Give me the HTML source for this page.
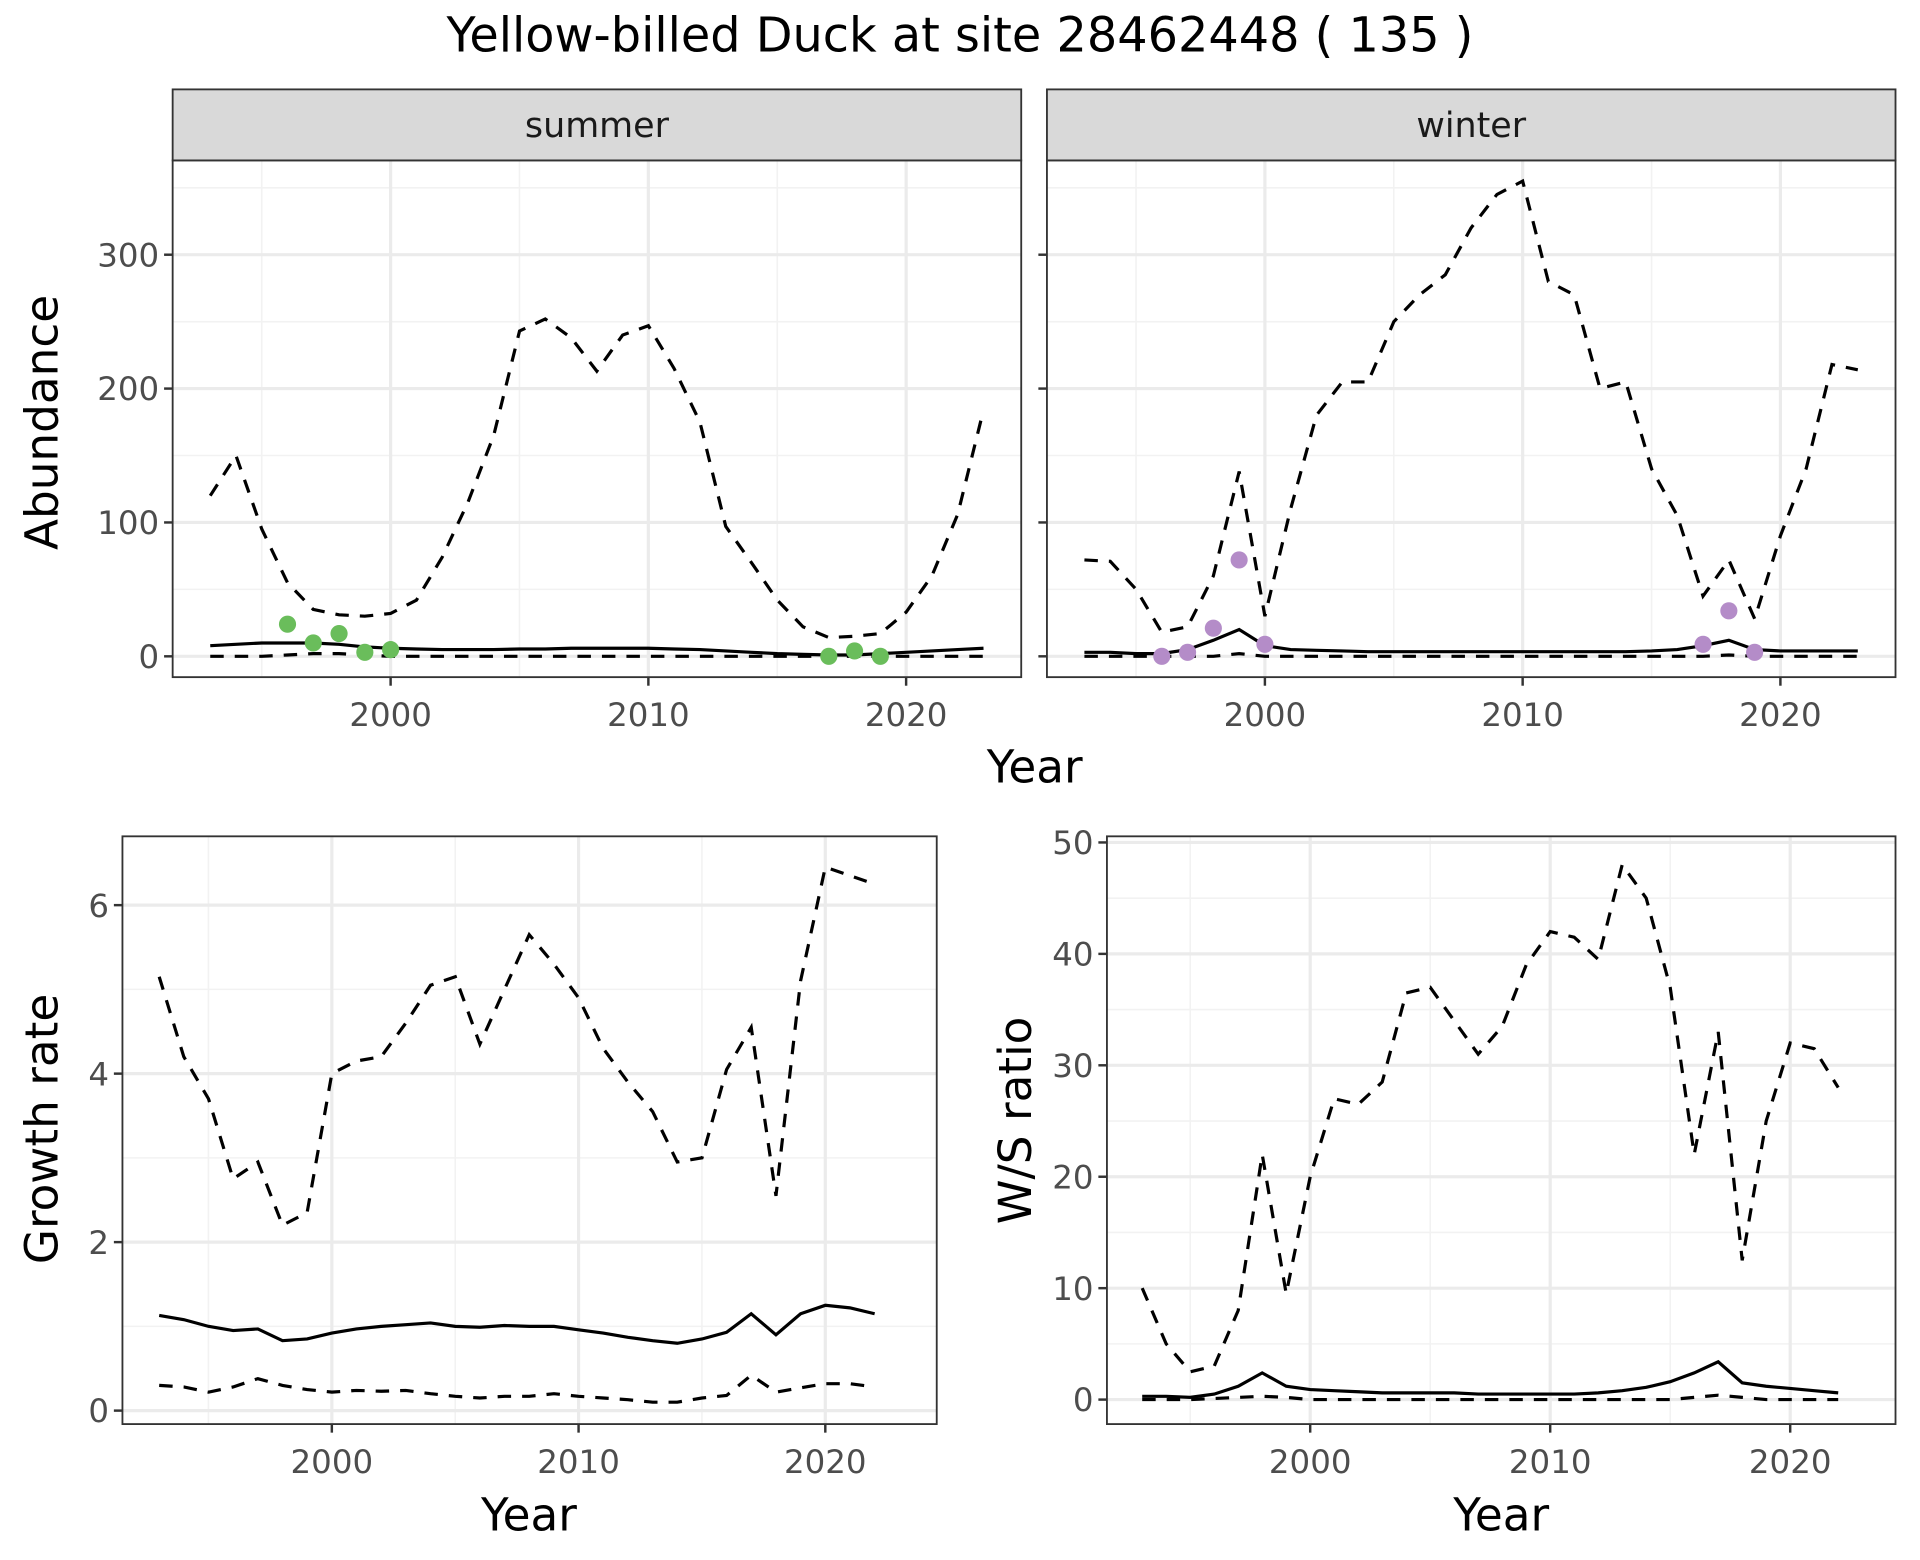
<!DOCTYPE html>
<html><head><meta charset="utf-8"><style>
html,body{margin:0;padding:0;background:#fff;}
svg{display:block;font-family:"DejaVu Sans","Liberation Sans",sans-serif;}
</style></head><body>
<svg id="chart" width="1920" height="1560" viewBox="0 0 1568 1274" xmlns="http://www.w3.org/2000/svg">
<rect width="1568" height="1274" fill="#fff"/>
<text x="784" y="42" font-size="39" text-anchor="middle" fill="#000">Yellow-billed Duck at site 28462448 ( 135 )</text>
</svg>
<script>
const yearsTop = [1993,1994,1995,1996,1997,1998,1999,2000,2001,2002,2003,2004,2005,2006,2007,2008,2009,2010,2011,2012,2013,2014,2015,2016,2017,2018,2019,2020,2021,2022,2023];
const summerUpper = [120,150,95,55,35,31,30,32,42,74,115,165,243,252,238,213,240,247,215,175,97,70,42,22,14,15,17,33,60,106,184];
const summerMean = [8,9,10,10,10,9,7,6,5.5,5,5,5,5.5,5.5,6,6,6,6,5.5,5,4,3,2,1.5,1,1,2,3,4,5,6];
const summerLower = [0,0,0,1,2,2,1,0,0,0,0,0,0,0,0,0,0,0,0,0,0,0,0,0,0,0,0,0,0,0,0];
const summerPtYears = [1996,1997,1998,1999,2000,2017,2018,2019];
const summerPtVals = [24,10,17,3,5,0,4,0];
const winterUpper = [72,71,50,18,22,60,138,30,110,180,205,205,250,270,285,320,345,355,280,270,200,205,140,105,45,72,28,90,140,218,214];
const winterMean = [3,3,2,2,5,12,20,8,5,4.5,4,3.5,3.5,3.5,3.5,3.5,3.5,3.5,3.5,3.5,3.5,3.5,4,5,8,12,5,4,4,4,4];
const winterLower = [0,0,0,0,0,0,2,0,0,0,0,0,0,0,0,0,0,0,0,0,0,0,0,0,0,1,0,0,0,0,0];
const winterPtYears = [1996,1997,1998,1999,2000,2017,2018,2019];
const winterPtVals = [0,3,21,72,9,9,34,3];
const yearsBot = [1993,1994,1995,1996,1997,1998,1999,2000,2001,2002,2003,2004,2005,2006,2007,2008,2009,2010,2011,2012,2013,2014,2015,2016,2017,2018,2019,2020,2021,2022];
const growthUpper = [5.15,4.2,3.7,2.75,2.95,2.2,2.35,4.0,4.15,4.2,4.6,5.05,5.15,4.35,5.0,5.65,5.3,4.9,4.3,3.9,3.55,2.95,3.0,4.05,4.55,2.55,5.1,6.45,6.35,6.25];
const growthMean = [1.13,1.08,1.0,0.95,0.97,0.83,0.85,0.92,0.97,1.0,1.02,1.04,1.0,0.99,1.01,1.0,1.0,0.96,0.92,0.87,0.83,0.8,0.85,0.93,1.15,0.9,1.15,1.25,1.22,1.15];
const growthLower = [0.3,0.28,0.22,0.28,0.38,0.3,0.25,0.22,0.24,0.23,0.24,0.2,0.17,0.15,0.17,0.17,0.2,0.17,0.15,0.13,0.1,0.1,0.15,0.18,0.42,0.22,0.27,0.32,0.32,0.28];
const ratioUpper = [10,5,2.5,3,8,22,9.5,20,27,26.5,28.5,36.5,37,34,31,33.5,39,42,41.5,39.5,48,45,37,22,33,12.5,25,32,31.5,28];
const ratioMean = [0.3,0.3,0.2,0.5,1.2,2.4,1.2,0.9,0.8,0.7,0.6,0.6,0.6,0.6,0.5,0.5,0.5,0.5,0.5,0.6,0.8,1.1,1.6,2.4,3.4,1.5,1.2,1.0,0.8,0.6];
const ratioLower = [0,0,0,0.1,0.2,0.3,0.2,0,0,0,0,0,0,0,0,0,0,0,0,0,0,0,0,0.2,0.4,0.2,0,0,0,0];
const absTicks = [0,100,200,300];
const growthTicks = [0,2,4,6];
const ratioTicks = [0,10,20,30,40,50];
const yearTicks = [2000,2010,2020];

const svg = document.getElementById('chart');
const NS = 'http://www.w3.org/2000/svg';
function mk(tag, attrs, parent){
  const e = document.createElementNS(NS, tag);
  for (const k in attrs) e.setAttribute(k, attrs[k]);
  (parent||svg).appendChild(e);
  return e;
}
function panel(name, x0, x1, y0, y1, xs, ys, yTicks, yMinor, showYLabels){
  const g = mk('g', {});
  
  
  mk('rect', {x:x0, y:y0, width:x1-x0, height:y1-y0, fill:'#fff'}, g);
  yMinor.forEach(v => mk('line', {x1:x0, x2:x1, y1:ys(v), y2:ys(v), stroke:'#f2f2f2', 'stroke-width':1.3}, g));
  [1995,2005,2015].forEach(v => mk('line', {x1:xs(v), x2:xs(v), y1:y0, y2:y1, stroke:'#f2f2f2', 'stroke-width':1.3}, g));
  yTicks.forEach(v => {
    mk('line', {x1:x0, x2:x1, y1:ys(v), y2:ys(v), stroke:'#ebebeb', 'stroke-width':2.6}, g);
    mk('line', {x1:x0-7, x2:x0, y1:ys(v), y2:ys(v), stroke:'#333', 'stroke-width':2}, g);
    if (showYLabels) {
      const t = mk('text', {x:x0-11, y:ys(v)+9.5, 'font-size':26.5, 'text-anchor':'end', fill:'#4d4d4d'}, g);
      
      
      t.textContent = v;
    }
  });
  yearTicks.forEach(v => {
    mk('line', {x1:xs(v), x2:xs(v), y1:y0, y2:y1, stroke:'#ebebeb', 'stroke-width':2.6}, g);
    mk('line', {x1:xs(v), x2:xs(v), y1:y1, y2:y1+7, stroke:'#333', 'stroke-width':2}, g);
    const t = mk('text', {x:xs(v), y:y1+40, 'font-size':26.5, 'text-anchor':'middle', fill:'#4d4d4d'}, g);
    
    
    t.textContent = v;
  });
  return g;
}
function line(g, name, years, vals, xs, ys, dashed){
  const d = years.map((y,i) => (i?'L':'M') + xs(y).toFixed(1) + ',' + ys(vals[i]).toFixed(1)).join(' ');
  const p = mk('path', {d:d, fill:'none', stroke:'#000', 'stroke-width':2.6, 'stroke-dasharray': dashed ? '11 9' : 'none'}, g);
  
  
}
function points(g, name, years, vals, xs, ys, col){
  years.forEach((y,i) => {
    const c = mk('circle', {cx:xs(y), cy:ys(vals[i]), r:7, fill:col}, g);
    
    
  });
}
function frame(g, x0, x1, y0, y1){
  mk('rect', {x:x0, y:y0, width:x1-x0, height:y1-y0, fill:'none', stroke:'#333', 'stroke-width':1.5}, g);
}
function strip(label, x0, x1){
  const r = mk('rect', {x:x0, y:73, width:x1-x0, height:58, fill:'#d9d9d9', stroke:'#333', 'stroke-width':1.5});
  
  
  const t = mk('text', {x:(x0+x1)/2, y:112, 'font-size':28.5, 'text-anchor':'middle', fill:'#1a1a1a'});
  
  
  t.textContent = label;
}
function label(name, txt, x, y, rot, size){
  const t = mk('text', {x:x, y:y, 'font-size':size||37, 'text-anchor':'middle', fill:'#000', transform: rot ? `rotate(-90 ${x} ${y})` : ''});
  
  
  t.textContent = txt;
}

const absY = v => 536 - v * 1.0933;
const absMinor = [50,150,250,350];
const sx = v => 319 + (v - 2000) * 21.05;
const gS = panel('summer-panel', 141, 834, 131, 553, sx, absY, absTicks, absMinor, true);
line(gS, 'summer-upper-ci', yearsTop, summerUpper, sx, absY, true);
line(gS, 'summer-lower-ci', yearsTop, summerLower, sx, absY, true);
line(gS, 'summer-mean', yearsTop, summerMean, sx, absY, false);
points(gS, 'summer-count-point', summerPtYears, summerPtVals, sx, absY, '#6abd5b');
frame(gS, 141, 834, 131, 553);
strip('summer', 141, 834);

const wx = v => 1033 + (v - 2000) * 21.05;
const gW = panel('winter-panel', 855, 1548, 131, 553, wx, absY, absTicks, absMinor, false);
line(gW, 'winter-upper-ci', yearsTop, winterUpper, wx, absY, true);
line(gW, 'winter-lower-ci', yearsTop, winterLower, wx, absY, true);
line(gW, 'winter-mean', yearsTop, winterMean, wx, absY, false);
points(gW, 'winter-count-point', winterPtYears, winterPtVals, wx, absY, '#b48cc8');
frame(gW, 855, 1548, 131, 553);
strip('winter', 855, 1548);
label('abundance-axis-title', 'Abundance', 47, 345, true);
label('top-x-axis-title', 'Year', 845, 639, false);

const gy = v => 1152 - v * 68.8;
const gx = v => 271 + (v - 2000) * 20.15;
const gG = panel('growth-panel', 100, 765, 683, 1163, gx, gy, growthTicks, [1,3,5], true);
line(gG, 'growth-upper-ci', yearsBot, growthUpper, gx, gy, true);
line(gG, 'growth-lower-ci', yearsBot, growthLower, gx, gy, true);
line(gG, 'growth-mean', yearsBot, growthMean, gx, gy, false);
frame(gG, 100, 765, 683, 1163);
label('growth-axis-title', 'Growth rate', 47, 922, true);
label('growth-x-axis-title', 'Year', 432, 1250, false);

const ry = v => 1143 - v * 9.1;
const rx = v => 1070 + (v - 2000) * 19.6;
const gR = panel('ratio-panel', 904, 1548, 683, 1163, rx, ry, ratioTicks, [5,15,25,35,45], true);
line(gR, 'ratio-upper-ci', yearsBot, ratioUpper, rx, ry, true);
line(gR, 'ratio-lower-ci', yearsBot, ratioLower, rx, ry, true);
line(gR, 'ratio-mean', yearsBot, ratioMean, rx, ry, false);
frame(gR, 904, 1548, 683, 1163);
label('ratio-axis-title', 'W/S ratio', 842, 915, true);
label('ratio-x-axis-title', 'Year', 1226, 1250, false);
</script>
</body></html>
